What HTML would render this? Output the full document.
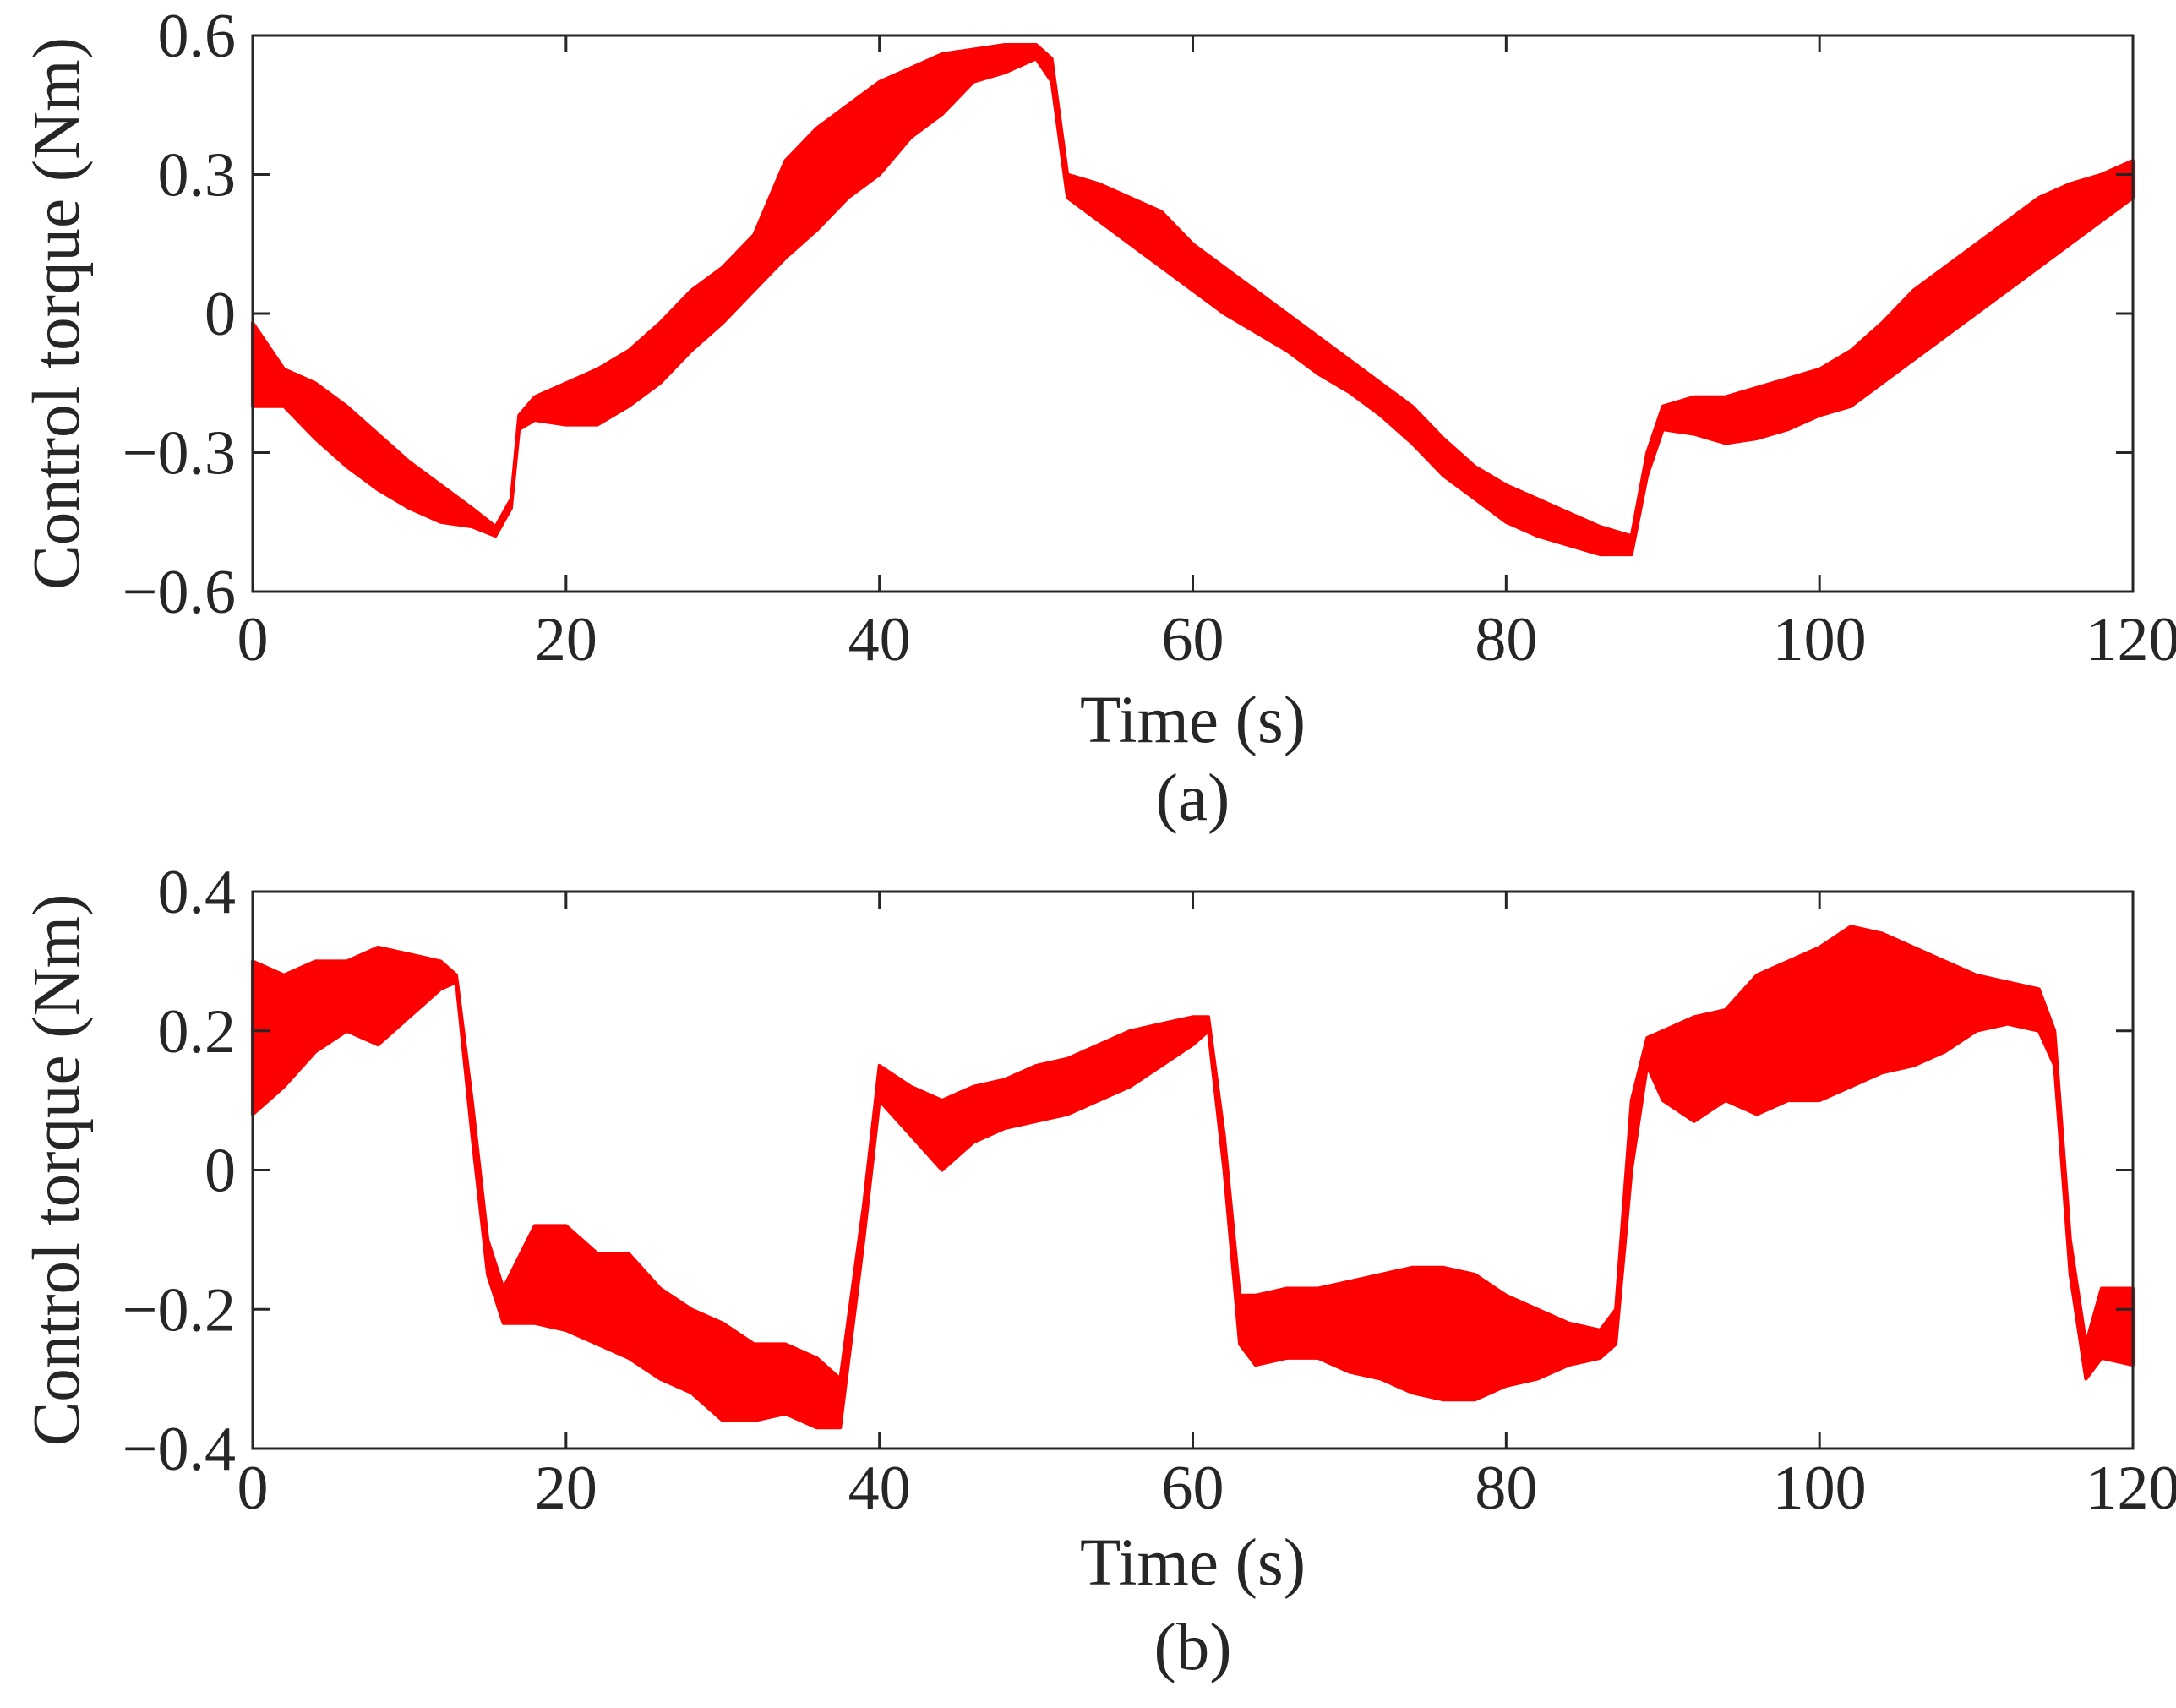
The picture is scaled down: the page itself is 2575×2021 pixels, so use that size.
<!DOCTYPE html>
<html><head><meta charset="utf-8">
<style>
html,body{margin:0;padding:0;background:#fff;}
svg{display:block;}
svg text{font-family:"Liberation Serif","Times New Roman","DejaVu Serif",serif;fill:#262626;}
</style></head>
<body>
<svg id="chart" width="2575" height="2021" viewBox="0 0 2575 2021" xmlns="http://www.w3.org/2000/svg"></svg>
<script>
// Panel (a) envelope data: time (s), upper and lower torque (Nm)
const timeA = [0,2,4,6,8,10,12,14,15.5,16.5,17,18,20,22,24,26,28,30,32,34,36,38,40,42,44,46,48,50,51,52,54,56,58,60,62,64,66,68,70,72,74,76,78,80,82,84,86,88,89,90,92,94,96,98,100,102,104,106,108,110,112,114,116,118,120];
const upperA = [-0.02,-0.12,-0.15,-0.2,-0.26,-0.32,-0.37,-0.42,-0.46,-0.4,-0.22,-0.18,-0.15,-0.12,-0.08,-0.02,0.05,0.1,0.17,0.33,0.4,0.45,0.5,0.53,0.56,0.57,0.58,0.58,0.55,0.3,0.28,0.25,0.22,0.15,0.1,0.05,0.0,-0.05,-0.1,-0.15,-0.2,-0.27,-0.33,-0.37,-0.4,-0.43,-0.46,-0.48,-0.3,-0.2,-0.18,-0.18,-0.16,-0.14,-0.12,-0.08,-0.02,0.05,0.1,0.15,0.2,0.25,0.28,0.3,0.33];
const lowerA = [-0.2,-0.2,-0.27,-0.33,-0.38,-0.42,-0.45,-0.46,-0.48,-0.42,-0.25,-0.23,-0.24,-0.24,-0.2,-0.15,-0.08,-0.02,0.05,0.12,0.18,0.25,0.3,0.38,0.43,0.5,0.52,0.55,0.5,0.25,0.2,0.15,0.1,0.05,0.0,-0.04,-0.08,-0.13,-0.17,-0.22,-0.28,-0.35,-0.4,-0.45,-0.48,-0.5,-0.52,-0.52,-0.35,-0.25,-0.26,-0.28,-0.27,-0.25,-0.22,-0.2,-0.15,-0.1,-0.05,0.0,0.05,0.1,0.15,0.2,0.25];
// Panel (b) envelope data
const timeB = [0,2,4,6,8,10,12,13,14,15,16,18,20,22,24,26,28,30,32,34,36,37.5,39,40,42,44,46,48,50,52,54,56,58,60,61,62,63,64,66,68,70,72,74,76,78,80,82,84,86,87,88,89,90,92,94,96,98,100,102,104,106,108,110,112,114,115,116,117,118,120];
const upperB = [0.3,0.28,0.3,0.3,0.32,0.31,0.3,0.28,0.1,-0.1,-0.17,-0.08,-0.08,-0.12,-0.12,-0.17,-0.2,-0.22,-0.25,-0.25,-0.27,-0.3,-0.05,0.15,0.12,0.1,0.12,0.13,0.15,0.16,0.18,0.2,0.21,0.22,0.22,0.05,-0.18,-0.18,-0.17,-0.17,-0.16,-0.15,-0.14,-0.14,-0.15,-0.18,-0.2,-0.22,-0.23,-0.2,0.1,0.19,0.2,0.22,0.23,0.28,0.3,0.32,0.35,0.34,0.32,0.3,0.28,0.27,0.26,0.2,-0.1,-0.25,-0.17,-0.17];
const lowerB = [0.08,0.12,0.17,0.2,0.18,0.22,0.26,0.27,0.05,-0.15,-0.22,-0.22,-0.23,-0.25,-0.27,-0.3,-0.32,-0.36,-0.36,-0.35,-0.37,-0.37,-0.1,0.1,0.05,0.0,0.04,0.06,0.07,0.08,0.1,0.12,0.15,0.18,0.2,0.0,-0.25,-0.28,-0.27,-0.27,-0.29,-0.3,-0.32,-0.33,-0.33,-0.31,-0.3,-0.28,-0.27,-0.25,0.0,0.15,0.1,0.07,0.1,0.08,0.1,0.1,0.12,0.14,0.15,0.17,0.2,0.21,0.2,0.15,-0.15,-0.3,-0.27,-0.28];
const xTicks = [0,20,40,60,80,100,120];
const yTicksA = [-0.6,-0.3,0,0.3,0.6];
const yTickLabelsA = ["\u22120.6","\u22120.3","0","0.3","0.6"];
const yTicksB = [-0.4,-0.2,0,0.2,0.4];
const yTickLabelsB = ["\u22120.4","\u22120.2","0","0.2","0.4"];

const NS="http://www.w3.org/2000/svg";
const FONT='"Liberation Serif","Times New Roman","DejaVu Serif",serif';
const svg=document.getElementById('chart');
function mk(tag,attrs,parent){const e=document.createElementNS(NS,tag);for(const k in attrs)e.setAttribute(k,attrs[k]);if(tag==='text')e.setAttribute('font-family',FONT);(parent||svg).appendChild(e);return e;}

function panel(cfg){
  const L=299,R=2524,T=cfg.top,B=cfg.bottom;
  const xs=t=>L+(t-0)/(120-0)*(R-L);
  const ys=v=>B-(v-cfg.ymin)/(cfg.ymax-cfg.ymin)*(B-T);
  const g=mk('g',{});
  
  
  let d='';
  cfg.t.forEach((t,i)=>{d+=(i?'L':'M')+xs(t).toFixed(1)+','+ys(cfg.up[i]).toFixed(1);});
  for(let i=cfg.t.length-1;i>=0;i--){d+='L'+xs(cfg.t[i]).toFixed(1)+','+ys(cfg.lo[i]).toFixed(1);}
  d+='Z';
  const band=mk('path',{d:d,fill:'#ff0000',stroke:'#ff0000','stroke-width':4,'stroke-linejoin':'round'},g);
  
  
  const box=mk('rect',{x:L,y:T,width:R-L,height:B-T,fill:'none',stroke:'#262626','stroke-width':3},g);
  
  
  xTicks.forEach(t=>{
    const x=xs(t);
    mk('line',{x1:x,y1:B,x2:x,y2:B-20,stroke:'#262626','stroke-width':3},g);
    mk('line',{x1:x,y1:T,x2:x,y2:T+20,stroke:'#262626','stroke-width':3},g);
    const tx=mk('text',{x:x,y:cfg.xLabelY,'text-anchor':'middle','font-size':74},g);
    tx.textContent=t;
    
    
  });
  cfg.yt.forEach((v,i)=>{
    const y=ys(v);
    mk('line',{x1:L,y1:y,x2:L+20,y2:y,stroke:'#262626','stroke-width':3},g);
    mk('line',{x1:R,y1:y,x2:R-20,y2:y,stroke:'#262626','stroke-width':3},g);
    const tx=mk('text',{x:279,y:y+25,'text-anchor':'end','font-size':74},g);
    tx.textContent=cfg.ytl[i];
    
    
  });
  const xt=mk('text',{x:(L+R)/2,y:cfg.xTitleY,'text-anchor':'middle','font-size':79},g);
  xt.textContent='Time (s)';
  
  
  const cy=(T+B)/2;
  const yt=mk('text',{x:0,y:0,'text-anchor':'middle','font-size':79,transform:'translate(93,'+cy+') rotate(-90)'},g);
  yt.textContent='Control torque (Nm)';
  
  
  const cap=mk('text',{x:(L+R)/2,y:cfg.capY,'text-anchor':'middle','font-size':79},g);
  cap.textContent=cfg.cap;
  
  
}
panel({name:'panel-a',top:42,bottom:700,ymin:-0.6,ymax:0.6,t:timeA,up:upperA,lo:lowerA,yt:yTicksA,ytl:yTickLabelsA,xLabelY:781,xTitleY:878,capY:970,cap:'(a)'});
panel({name:'panel-b',top:1055,bottom:1714,ymin:-0.4,ymax:0.4,t:timeB,up:upperB,lo:lowerB,yt:yTicksB,ytl:yTickLabelsB,xLabelY:1785,xTitleY:1875,capY:1975,cap:'(b)'});
</script>
</body></html>
